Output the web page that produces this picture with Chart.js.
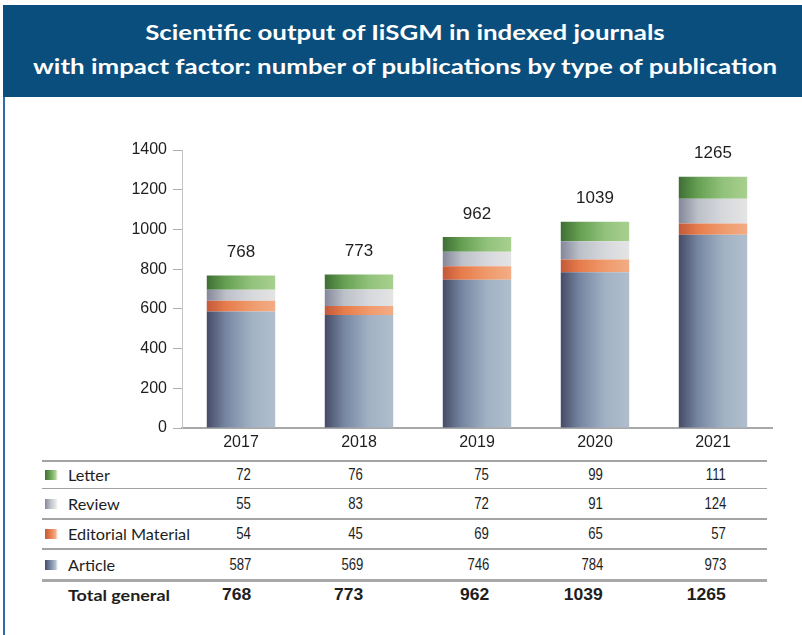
<!DOCTYPE html>
<html>
<head>
<meta charset="utf-8">
<script src="https://cdn.jsdelivr.net/npm/chart.js@4.4.1/dist/chart.umd.min.js"></script>
<style>
  html, body { margin:0; padding:0; background:#fff; }
  body { width:802px; height:635px; position:relative; overflow:hidden; font-family:"Liberation Sans", Arial, sans-serif; color:#1e1e1e; }
  #header { position:absolute; left:3px; top:5px; width:799px; height:92px; background:#0a4e7d; }
  #leftBorder { position:absolute; left:3px; top:97px; width:2px; height:538px; background:#2f6ea8; }
  .tline { position:absolute; left:0; width:810px; text-align:center; color:#fff; font-family:Lato, "Noto Sans", sans-serif; font-weight:bold; font-size:21px; line-height:24px; white-space:nowrap; }
  .tline span { display:inline-block; transform-origin:center; }
  #chartBox { position:absolute; left:0; top:100px; width:802px; height:350px; }
  .hl { position:absolute; left:42px; width:725px; background:#a3a3a3; }
  .lab { position:absolute; left:68px; font-family:Lato, "Noto Sans", sans-serif; font-size:16px; white-space:nowrap; transform-origin:left center; line-height:20px; }
  .lab.bold { font-weight:bold; }
  .num { position:absolute; font-size:17px; white-space:nowrap; line-height:20px; transform-origin:right center; }
  .num.bold { font-weight:bold; }
  .icon { position:absolute; left:45px; width:13px; height:10px; }
</style>
</head>
<body>
<div id="header"></div>
<div id="leftBorder"></div>
<div class="tline" style="top:20px"><span id="t1">Scientific output of IiSGM in indexed journals</span></div>
<div class="tline" style="top:54px"><span id="t2">with impact factor: number of publications by type of publication</span></div>
<div id="chartBox"><canvas id="c"></canvas></div>
<div id="table"></div>
<script>
// ---- data ----
const years = ['2017', '2018', '2019', '2020', '2021'];
const article = [587, 569, 746, 784, 973];
const editorial = [54, 45, 69, 65, 57];
const review = [55, 83, 72, 91, 124];
const letter = [72, 76, 75, 99, 111];
const seriesNames = ['Article', 'Editorial Material', 'Review', 'Letter'];
const totalLabel = 'Total general';
const yMax = 1400, yStep = 200;

// ---- styles ----
const gradStops = {
  'Article':            ['#464b66', '#7686a2', '#a2b2c4', '#b0becc'],
  'Editorial Material': ['#c2593a', '#e77c4c', '#ef9a6c', '#f3ac85'],
  'Review':             ['#83879a', '#bcc0c8', '#d6d8dc', '#e4e4e4'],
  'Letter':             ['#3e6e36', '#66a052', '#92c27c', '#a8d08e']
};
const BAR_PCT = 0.58;

function barGradient(name) {
  const s = gradStops[name];
  return function(ctx) {
    const chart = ctx.chart;
    const xs = chart.scales && chart.scales.x;
    if (!xs || ctx.type !== 'data' || !isFinite(xs.width) || xs.width <= 0) return s[2];
    const cx = xs.getPixelForValue(ctx.dataIndex);
    const w = xs.width / years.length * BAR_PCT;
    const g = chart.ctx.createLinearGradient(cx - w / 2, 0, cx + w / 2, 0);
    g.addColorStop(0, s[0]);
    g.addColorStop(0.28, s[1]);
    g.addColorStop(0.65, s[2]);
    g.addColorStop(1, s[3]);
    return g;
  };
}

const seriesData = { 'Article': article, 'Editorial Material': editorial, 'Review': review, 'Letter': letter };
const totals = years.map((_, i) => article[i] + editorial[i] + review[i] + letter[i]);

const totalsPlugin = {
  id: 'totals',
  afterDatasetsDraw(chart) {
    const { ctx, scales: { x, y } } = chart;
    ctx.save();
    ctx.font = '17px "Liberation Sans", Arial, sans-serif';
    ctx.fillStyle = '#1e1e1e';
    ctx.textAlign = 'center';
    ctx.textBaseline = 'middle';
    totals.forEach((t, i) => {
      ctx.fillText(String(t), x.getPixelForValue(i), y.getPixelForValue(t) - 23);
    });
    ctx.restore();
  }
};

new Chart(document.getElementById('c'), {
  type: 'bar',
  data: {
    labels: years,
    datasets: seriesNames.map(n => ({
      label: n,
      data: seriesData[n],
      backgroundColor: barGradient(n),
      borderWidth: 0,
      barPercentage: BAR_PCT,
      categoryPercentage: 1
    }))
  },
  options: {
    responsive: true,
    maintainAspectRatio: false,
    animation: false,
    events: [],
    layout: { padding: { top: 50, right: 30, left: 0, bottom: 0 } },
    plugins: { legend: { display: false }, tooltip: { enabled: false } },
    scales: {
      x: {
        stacked: true,
        grid: { display: false, drawTicks: false },
        border: { display: true, color: '#a8a8a8', width: 2 },
        ticks: { color: '#1e1e1e', font: { size: 16, family: '"Liberation Sans", Arial, sans-serif' }, padding: 5 },
        afterFit(s) { s.height = 22; }
      },
      y: {
        stacked: true,
        min: 0, max: yMax,
        grid: { drawOnChartArea: false, drawTicks: true, tickLength: 9, tickColor: '#b0b0b0' },
        border: { display: true, color: '#c4c4c4', width: 1 },
        ticks: { stepSize: yStep, color: '#1e1e1e', font: { size: 16, family: '"Liberation Sans", Arial, sans-serif' }, padding: 6,
                 callback: v => String(v) },
        afterFit(s) { s.width = 182; }
      }
    }
  },
  plugins: [totalsPlugin]
});

// ---- table ----
const tableRows = ['Letter', 'Review', 'Editorial Material', 'Article'];
const colRight = [251, 363, 489, 603, 726];
const lineTops = [461, 488.5, 519, 549];
const table = document.getElementById('table');

function fitEl(el, target) {
  const w = el.getBoundingClientRect().width;
  return target / w;
}

lineTops.forEach(t => {
  const d = document.createElement('div');
  d.className = 'hl'; d.style.top = (t - 0.75) + 'px'; d.style.height = '1.5px';
  table.appendChild(d);
});
const thick = document.createElement('div');
thick.className = 'hl'; thick.style.top = '578.5px'; thick.style.height = '3px'; thick.style.background = '#a8a8a8';
table.appendChild(thick);

const rowCenters = [474.5, 503.8, 534, 564.5, 595];
const labEls = [], numEls = [], boldNumEls = [];
tableRows.forEach((name, r) => {
  const cy = rowCenters[r];
  const ic = document.createElement('div');
  ic.className = 'icon';
  const s = gradStops[name];
  ic.style.top = (cy - 5) + 'px';
  ic.style.background = `linear-gradient(to right, ${s[0]}, ${s[1]} 40%, ${s[3]} 80%, rgba(255,255,255,0.6))`;
  table.appendChild(ic);
  const lb = document.createElement('div');
  lb.className = 'lab'; lb.textContent = name; lb.style.top = (cy - 10) + 'px';
  table.appendChild(lb); labEls.push(lb);
  seriesData[name].forEach((v, i) => {
    const n = document.createElement('div');
    n.className = 'num'; n.textContent = String(v);
    n.style.top = (cy - 10) + 'px'; n.style.right = (802 - colRight[i]) + 'px';
    table.appendChild(n); numEls.push(n);
  });
});
{
  const cy = rowCenters[4];
  const lb = document.createElement('div');
  lb.className = 'lab bold'; lb.textContent = totalLabel; lb.style.top = (cy - 10) + 'px';
  table.appendChild(lb); labEls.push(lb);
  totals.forEach((v, i) => {
    const n = document.createElement('div');
    n.className = 'num bold'; n.textContent = String(v);
    n.style.top = (cy - 10) + 'px'; n.style.right = (802 - colRight[i]) + 'px';
    table.appendChild(n); boldNumEls.push(n);
  });
}

// horizontal fitting of condensed text
const kLab = fitEl(labEls[2], 122);
labEls.slice(0, 4).forEach(e => e.style.transform = `scaleX(${kLab})`);
labEls[4].style.transform = `scaleX(${fitEl(labEls[4], 102)})`;
const kNum = fitEl(numEls[tableRows.indexOf('Article') * 5], 22);
numEls.forEach(e => e.style.transform = `scaleX(${kNum})`);
const kBold = fitEl(boldNumEls[4], 39);
boldNumEls.forEach(e => e.style.transform = `scaleX(${kBold})`);
const t1 = document.getElementById('t1'), t2 = document.getElementById('t2');
const kT = fitEl(t2, 744);
t1.style.transform = `scaleX(${kT})`;
t2.style.transform = `scaleX(${kT})`;
</script>
</body>
</html>
